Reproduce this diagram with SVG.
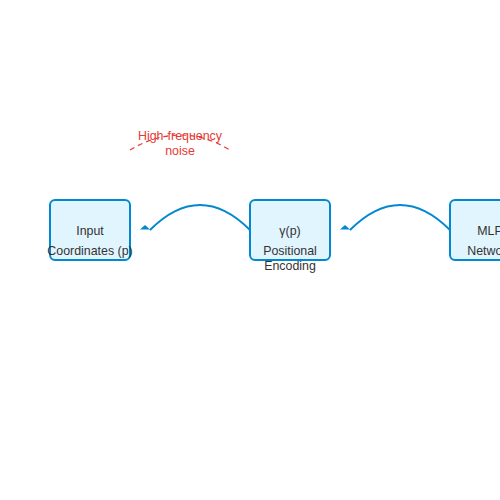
<svg xmlns="http://www.w3.org/2000/svg" width="500" height="500" viewBox="0 0 500 500">
<style>
.box{fill:#e1f5fe;stroke:#0288d1;stroke-width:2}
.lbl{font-family:"Liberation Sans",Arial,sans-serif;font-size:12.4px;fill:#333;text-anchor:middle}
.conn{fill:none;stroke:#0288d1;stroke-width:2}
.head{fill:#0288d1}
.noise{fill:none;stroke:#e53935;stroke-width:1.2;stroke-dasharray:5,4}
.nlbl{font-family:"Liberation Sans",Arial,sans-serif;font-size:12.4px;fill:#e53935;text-anchor:middle}
</style>
<rect width="500" height="500" fill="#fff"/>
<g id="connectors">
<path class="conn" d="M250,230 Q200,180 150,230"/>
<polygon class="head" points="140,229.5 145,225 150,229.5"/>
<path class="conn" d="M450,230 Q400,180 350,230"/>
<polygon class="head" points="340,229.5 345,225 350,229.5"/>
</g>
<g id="noise">
<path class="noise" d="M130,150 Q180,120 230,150"/>
<text class="nlbl" x="180" y="140">High-frequency</text>
<text class="nlbl" x="180" y="155">noise</text>
</g>
<g id="input">
<rect class="box" x="50" y="200" width="80" height="60" rx="5"/>
<text class="lbl" x="90" y="235">Input</text>
<text class="lbl" x="90" y="255">Coordinates (p)</text>
</g>
<g id="encoding">
<rect class="box" x="250" y="200" width="80" height="60" rx="5"/>
<text class="lbl" x="290" y="235">γ(p)</text>
<text class="lbl" x="290" y="255">Positional</text>
<text class="lbl" x="290" y="270">Encoding</text>
</g>
<g id="mlp">
<rect class="box" x="450" y="200" width="80" height="60" rx="5"/>
<text class="lbl" x="490" y="235">MLP</text>
<text class="lbl" x="490" y="255">Network</text>
</g>
</svg>
